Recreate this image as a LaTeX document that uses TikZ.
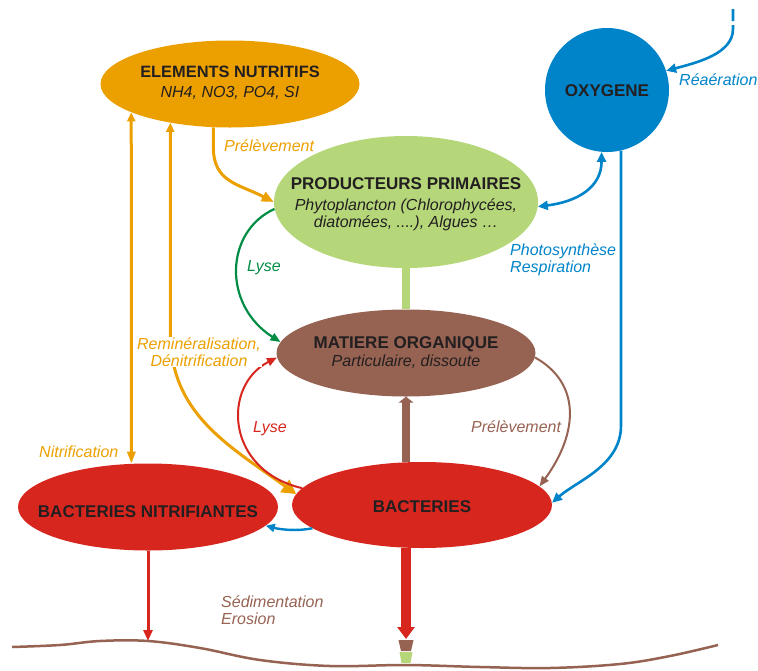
\documentclass[tikz,border=0pt]{standalone}
\usepackage{fontspec}
\setmainfont{Liberation Sans}
\usepackage{xcolor}
\definecolor{eauorange}{RGB}{236,160,0}
\definecolor{eauvertclair}{RGB}{181,215,121}
\definecolor{eauvertfonce}{RGB}{0,140,68}
\definecolor{eaubleu}{RGB}{0,132,201}
\definecolor{eaubrun}{RGB}{150,98,82}
\definecolor{eaurouge}{RGB}{215,38,30}
\definecolor{eautexte}{RGB}{35,31,32}
\usepackage{tikz}
\usetikzlibrary{shapes.geometric, arrows.meta}

\begin{document}
\begin{tikzpicture}[
    x=1pt, y=-1pt,
    compart/.style={ellipse, inner sep=0pt, minimum width=259pt, minimum height=87pt},
    titre/.style={anchor=base, inner sep=0pt, text=eautexte, font=\fontsize{17}{20}\selectfont\bfseries},
    soustitre/.style={anchor=base, inner sep=0pt, text=eautexte, align=center, font=\fontsize{16}{17}\selectfont\itshape},
    flux/.style={inner sep=0pt, align=left, font=\fontsize{16}{17}\selectfont\itshape},
    oarr/.style={-{Triangle[length=12pt,width=10pt]}, line width=3pt, eauorange},
    barr/.style={-{Triangle[length=10pt,width=9pt]}, line width=2.6pt, eaubleu},
    fin/.style={-{Triangle[length=10pt,width=8pt]}, line width=2pt},
]
\useasboundingbox (0,0) rectangle (758,670);

% compartiments
\node[compart, fill=eauorange] (elem) at (230,84) {};
\node[compart, fill=eauvertclair, minimum width=264pt, minimum height=132pt] (prod) at (406,202) {};
\node[circle, fill=eaubleu, minimum size=124pt, inner sep=0pt] (oxy) at (607,90) {};
\node[compart, fill=eaubrun] (mat) at (406,353) {};
\node[compart, fill=eaurouge, minimum width=260pt, minimum height=86pt] (bact) at (422,505) {};
\node[compart, fill=eaurouge, minimum width=260pt] (nitr) at (148,507) {};

\node[titre, font=\fontsize{16.4}{19}\selectfont\bfseries] (elemtitre) at ([yshift=7pt]elem.center) {ELEMENTS NUTRITIFS};
\node[soustitre] (elemsous) at ([yshift=-13pt]elem.center) {NH4, NO3, PO4, SI};
\node[titre] (prodtitre) at ([yshift=13pt]prod.center) {PRODUCTEURS PRIMAIRES};
\node[soustitre, anchor=center] (prodsous) at ([yshift=-13.2pt]prod.center) {Phytoplancton (Chlorophycées,\\diatomées, ....), Algues …};
\node[titre] (oxytitre) at ([yshift=-6pt]oxy.center) {OXYGENE};
\node[titre] (mattitre) at ([yshift=5pt]mat.center) {MATIERE ORGANIQUE};
\node[soustitre] (matsous) at ([yshift=-13.5pt]mat.center) {Particulaire, dissoute};
\node[titre] (bacttitre) at ([yshift=-7pt]bact.center) {BACTERIES};
\node[titre] (nitrtitre) at ([yshift=-10pt]nitr.center) {BACTERIES NITRIFIANTES};

% flux
\draw[eauvertclair, line width=8.5pt] (prod.south) -- (mat.north);
\draw[eaubrun, line width=8pt, -{Triangle[length=6pt,width=15pt]}] (mat.south |- bact.north) -- (mat.south);
\coordinate (sedbact) at (406,639);
\draw[eaurouge, line width=10pt, -{Triangle[length=12pt,width=17pt]}] (mat.south |- bact.south) -- (sedbact);
\fill[eaubrun, shift={(sedbact)}] (-7.5,1) -- (7.5,1) -- (5,12) -- (-5,12) -- cycle;
\fill[eauvertclair, shift={(sedbact)}] (-6.5,13) -- (6.5,13) -- (4.5,24) -- (-4.5,24) -- cycle;
\coordinate (sednitr) at (148,641);
\draw[eaurouge, line width=3pt, -{Triangle[length=11pt,width=9pt]}] (nitr.south) -- (sednitr);

\draw[oarr, {Triangle[length=9pt,width=8pt]}-{Triangle[length=12pt,width=8pt]}] (elem.-164) -- (nitr.111.5);
\draw[oarr, {Triangle[length=9pt,width=8pt]}-{Triangle[length=14pt,width=15pt]}] (elem.-147.3) -- ++(0,210) .. controls +(0,80) and +(-70,-50) .. (bact.175);
\draw[oarr] (elem.-111.5) -- ++(0,20) .. controls +(0,35) and +(-35,-18) .. (prod.west);

\draw[fin, eauvertfonce, line width=2.2pt] (prod.183) .. controls +(-50,23) and +(-58,-37) .. (mat.175);
\draw[fin, eaurouge] (bact.172) .. controls +(-77,-18) and +(-55,28) .. (mat.182);
\draw[fin, eaubrun] (mat.-2) .. controls +(45,25) and +(40,-55) .. (bact.9);

\coordinate (air) at (733,9);
\draw[barr, dash pattern=on 12pt off 4pt on 300pt] (air) -- ++(0,20) .. controls +(0,25) and +(30,-8) .. (oxy.18);
\draw[barr, {Triangle[length=10pt,width=9pt]}-{Triangle[length=10pt,width=9pt]}] (prod.-2) .. controls +(40,-5) and +(0,35) .. (oxy.-95);
\draw[barr] (oxy.-77) -- ++(0,275) .. controls +(0,40) and +(25,-22) .. (bact.1);
\draw[barr, line width=2.4pt, -{Triangle[length=9pt,width=8pt]}] (bact.-168) .. controls +(-15,3) and +(15,4) .. (nitr.-9);

% sol
\draw[eaubrun, line width=2.5pt] plot[smooth, tension=0.6] coordinates {(12,647) (60,645) (100,641) (148,641) (200,648) (260,660) (330,666) (406,665) (480,667) (550,668) (620,664) (670,656) (718,645)};

% libelles
\node[flux, eauorange, anchor=base west] (lprelev) at (224,151) {Prélèvement};
\node[flux, eauvertfonce, anchor=base west] (llysev) at (247,271.5) {Lyse};
\node[flux, eauorange, align=center, fill=white, inner sep=1pt] (lremin) at (199,352) {Reminéralisation,\\Dénitrification};
\node[flux, eauorange, anchor=base west] (lnitrif) at (39,457.5) {Nitrification};
\node[flux, eaurouge, anchor=base west] (llyser) at (253,432.5) {Lyse};
\node[flux, eaubrun, anchor=base west] (lprelevb) at (471,432.5) {Prélèvement};
\node[flux, eaubleu, anchor=north west] (lphoto) at (510,244) {Photosynthèse\\Respiration};
\node[flux, eaubleu, anchor=base west] (lreaer) at (679,85) {Réaération};
\node[flux, eaubrun, anchor=north west] (lsedim) at (221,595.6) {Sédimentation\\Erosion};

\end{tikzpicture}
\end{document}
